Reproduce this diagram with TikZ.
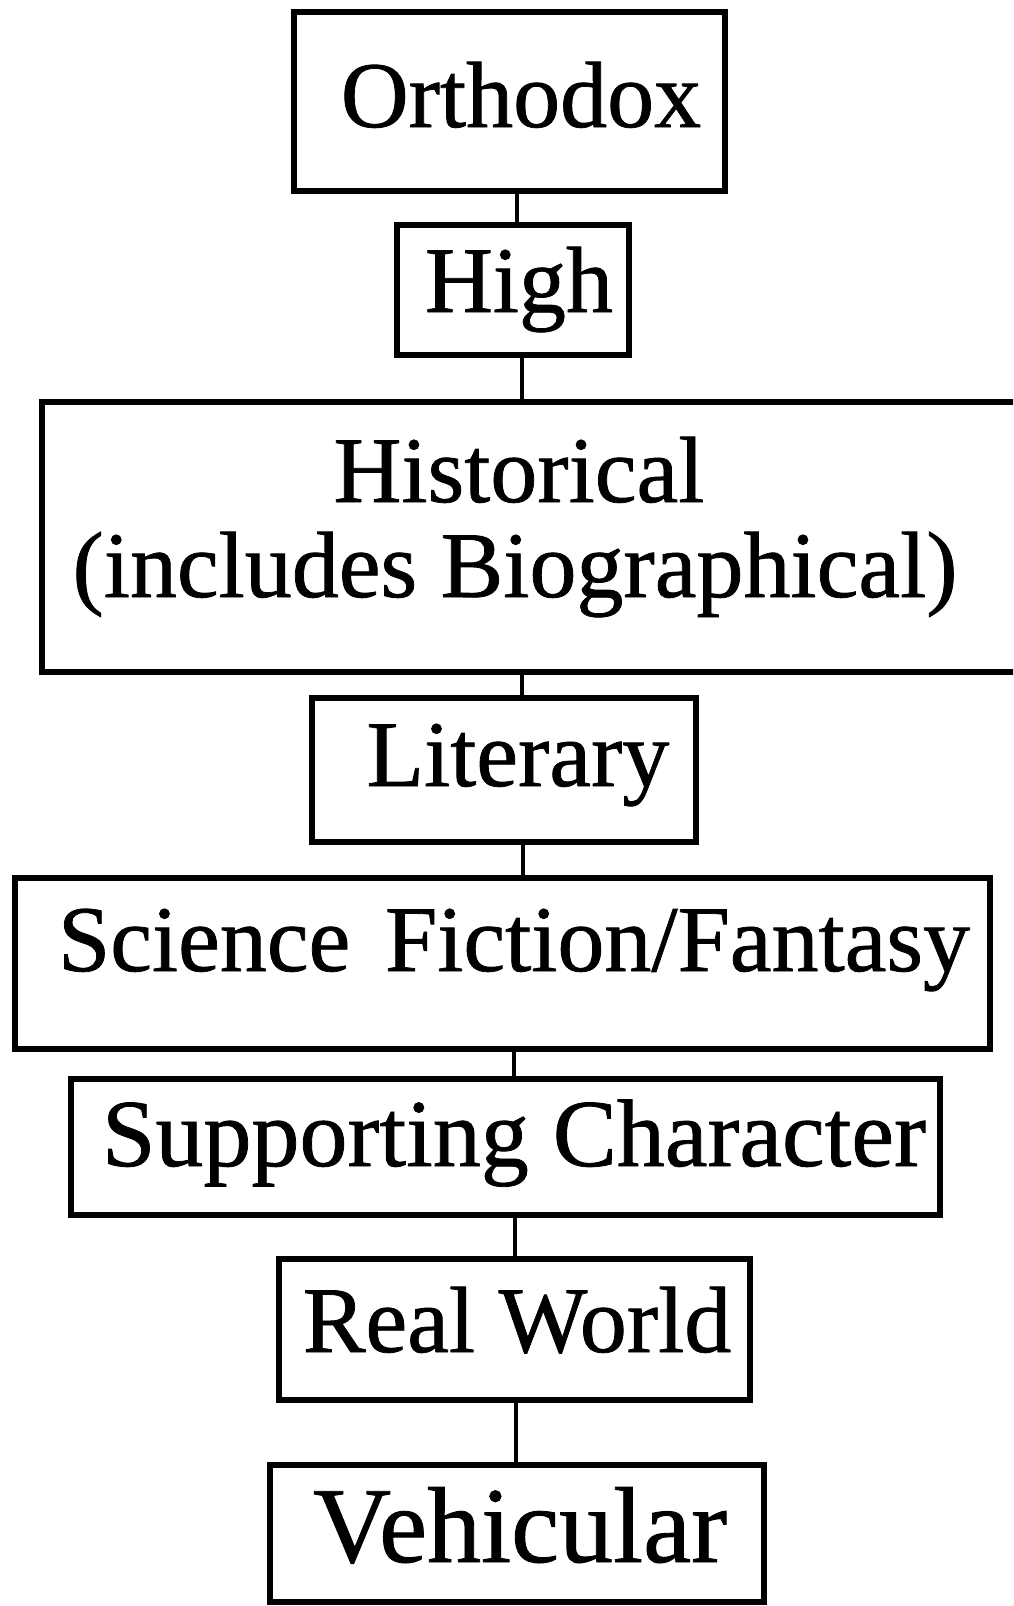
\documentclass[tikz,border=0pt]{standalone}
\usepackage{fontspec}
\setmainfont{Liberation Serif}
\newfontfamily\inkfont[FakeBold=0.8]{Liberation Serif}
\begin{document}
\begin{tikzpicture}[x=1pt,y=1pt,
  box/.style={draw, line width=5.5pt, inner sep=0pt, outer sep=0pt, rectangle},
  lbl/.style={inner sep=0pt, anchor=base, font=\inkfont\fontsize{94}{94}\selectfont},
  link/.style={line width=3.5pt}]
\useasboundingbox (0,0) rectangle (1013,-1606);
\clip (0,0) rectangle (1013,-1606);
\fill[white] (0,0) rectangle (1013,-1606);
% boxes
\node[box, minimum width=431pt, minimum height=179pt] (o) at (509.5,-101.5) {};
\node[box, minimum width=232pt, minimum height=130pt] (h) at (513,-290) {};
\node[box, minimum width=988pt, minimum height=270pt] (hi) at (536,-537) {};
\node[box, minimum width=384pt, minimum height=144pt] (li) at (504,-770) {};
\node[box, minimum width=975pt, minimum height=171pt] (sf) at (502.5,-963.5) {};
\node[box, minimum width=869pt, minimum height=136pt] (sc) at (505.5,-1147) {};
\node[box, minimum width=471pt, minimum height=141pt] (rw) at (514.5,-1329.5) {};
\node[box, minimum width=494pt, minimum height=137pt] (ve) at (517,-1533.5) {};
% labels
\node[lbl] (ot) at (521,-127) {Orthodox};
\node[lbl] (ht) at (519,-312) {High};
\node[lbl] (hit1) at (519,-502) {Historical};
\node[lbl] (hit2) at (515,-597) {(includes Biographical)};
\node[lbl] (lit) at (518,-786) {Literary};
\node[lbl] (sft) at (514,-971) {Science\hspace{0.12em} Fiction/Fantasy};
\node[lbl, font=\inkfont\fontsize{96}{96}\selectfont] (sct) at (514,-1166) {Supporting Character};
\node[lbl] (rwt) at (517,-1352) {Real World};
\node[lbl, font=\inkfont\fontsize{108}{108}\selectfont] (vet) at (520,-1562) {Vehicular};
% connector columns
\coordinate (c1) at (517,0);
\coordinate (c2) at (522,0);
\coordinate (c3) at (522,0);
\coordinate (c4) at (523,0);
\coordinate (c5) at (514,0);
\coordinate (c6) at (515,0);
\coordinate (c7) at (516,0);
\draw[link] (o.south -| c1) -- (h.north -| c1);
\draw[link] (h.south -| c2) -- (hi.north -| c2);
\draw[link] (hi.south -| c3) -- (li.north -| c3);
\draw[link] (li.south -| c4) -- (sf.north -| c4);
\draw[link] (sf.south -| c5) -- (sc.north -| c5);
\draw[link] (sc.south -| c6) -- (rw.north -| c6);
\draw[link] (rw.south -| c7) -- (ve.north -| c7);
\end{tikzpicture}
\end{document}
